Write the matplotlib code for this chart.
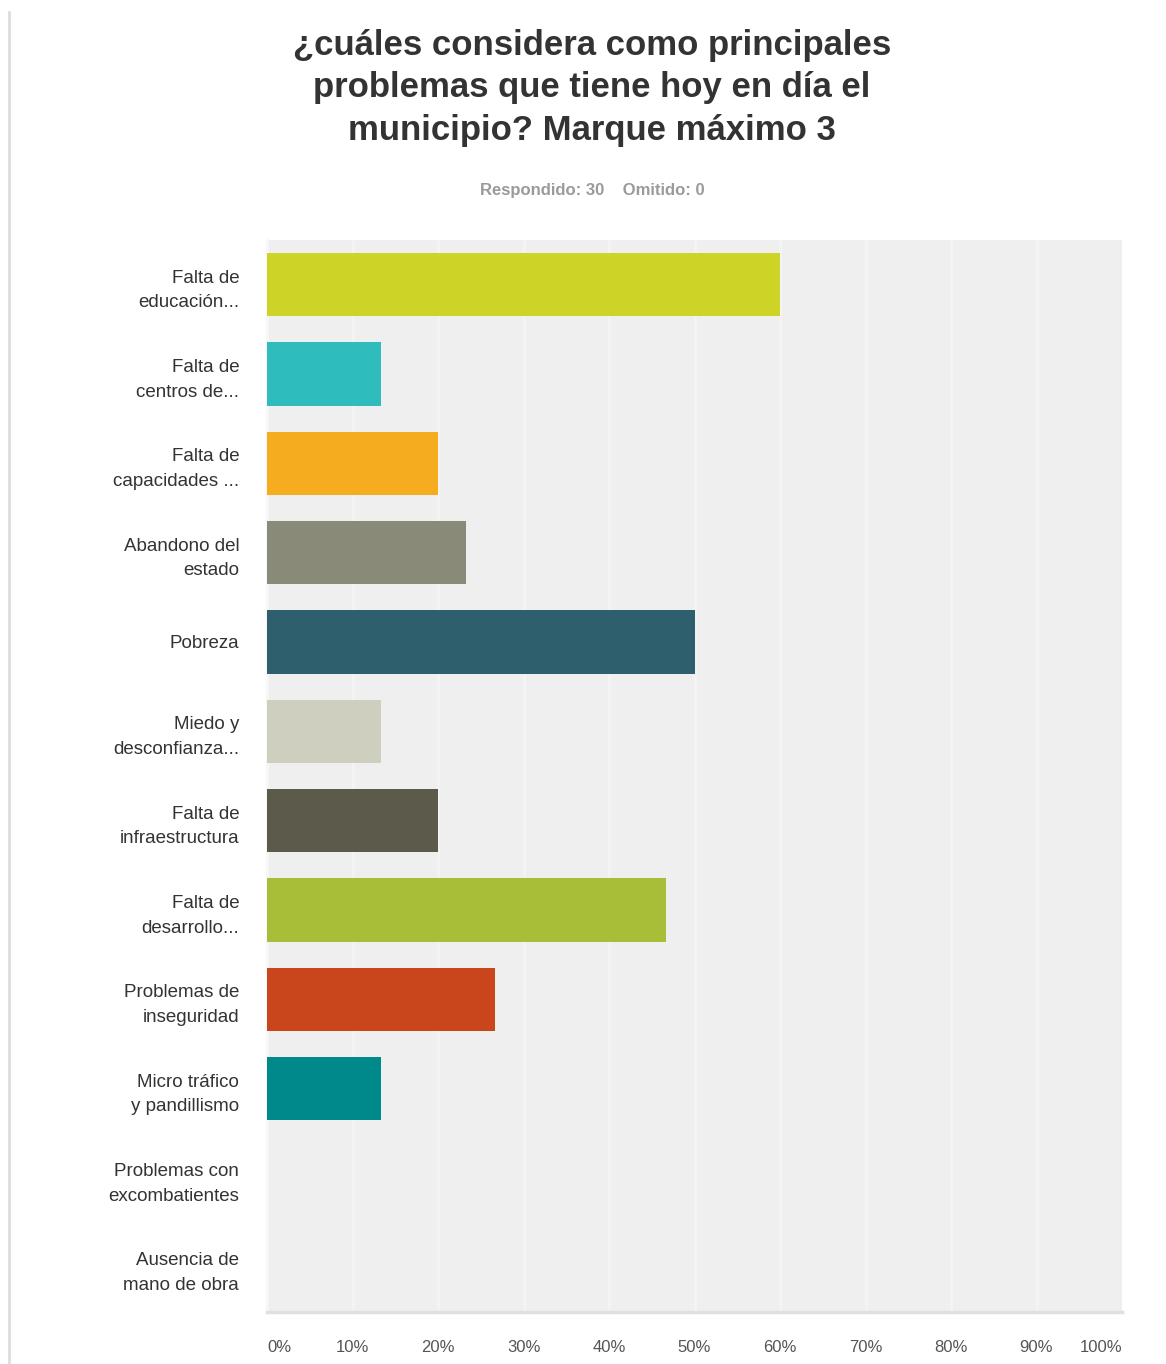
import numpy as np
import matplotlib.pyplot as plt

# data (30 respondents)
categorias = ['Falta de\neducación...', 'Falta de\ncentros de...', 'Falta de\ncapacidades ...',
              'Abandono del\nestado', 'Pobreza', 'Miedo y\ndesconfianza...',
              'Falta de\ninfraestructura', 'Falta de\ndesarrollo...', 'Problemas de\ninseguridad',
              'Micro tráfico\ny pandillismo', 'Problemas con\nexcombatientes', 'Ausencia de\nmano de obra']
porcentajes = [60.0, 13.33, 20.0, 23.33, 50.0, 13.33, 20.0, 46.67, 26.67, 13.33, 0.0, 0.0]
colores = ['#cdd425', '#2fbcbc', '#f5ad1f', '#8a8a78', '#2e5f6c', '#cfcfc0',
           '#5b5a4b', '#a8bd38', '#c9461c', '#00898a', '#999999', '#999999']
ticks = [0, 10, 20, 30, 40, 50, 60, 70, 80, 90, 100]
tick_labels = ['0%', '10%', '20%', '30%', '40%', '50%', '60%', '70%', '80%', '90%', '100%']

plt.rcParams['font.family'] = ['Liberation Sans', 'DejaVu Sans']

fig = plt.figure(figsize=(11.66, 13.64), dpi=100)
W, H = 1166, 1364
ax = fig.add_axes([267/W, 1 - 1312/H, (1122-267)/W, (1312-240)/H])
ax.set_facecolor('#efefef')

y = np.arange(len(categorias))
ax.barh(y, porcentajes, height=0.71, color=colores, zorder=3)
ax.set_ylim(len(categorias) - 0.5, -0.5)
ax.set_xlim(0, 100)

# light vertical grid
for t in ticks[1:-1]:
    ax.axvline(t, color='#f4f4f4', linewidth=2, zorder=1)

ax.set_xticks(ticks)
ax.set_xticklabels(tick_labels, fontsize=12, color='#555555')
lbls = ax.get_xticklabels()
lbls[0].set_ha('left')
lbls[-1].set_ha('right')
ax.tick_params(axis='x', length=0, pad=20)

ax.set_yticks(y)
ax.set_yticklabels(categorias, fontsize=13.5, color='#333333', linespacing=1.6)
ax.tick_params(axis='y', length=0, pad=20)

for s in ['top', 'right']:
    ax.spines[s].set_visible(False)
ax.spines['left'].set_color('#f7f7f7')
ax.spines['left'].set_linewidth(2)
ax.spines['bottom'].set_color('#e0e0e0')
ax.spines['bottom'].set_linewidth(2.5)

# page border line at the left
fig.add_artist(plt.Line2D([9/W, 9/W], [0, 1 - 12/H], color='#dddddd', linewidth=2))

fig.text(592/W, 1 - 88/H, '¿cuáles considera como principales\nproblemas que tiene hoy en día el\nmunicipio? Marque máximo 3',
         ha='center', va='center', fontsize=25, fontweight='bold', color='#333333', linespacing=1.38)
fig.text(592/W, 1 - 190/H, 'Respondido: 30    Omitido: 0', ha='center', va='center',
         fontsize=12, fontweight='bold', color='#9a9a9a')

plt.savefig('out.png', dpi=100, facecolor='white')
